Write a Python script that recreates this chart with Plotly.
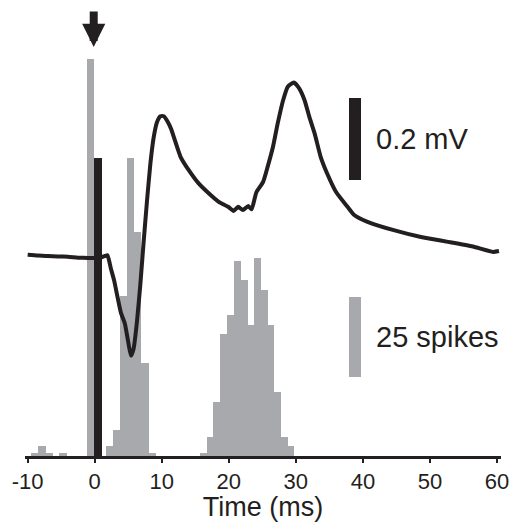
import plotly.graph_objects as go

# Averaged field potential (mV) sampled along the time axis (ms)
time_ms = [-10.0, -8.5, -7.0, -5.5, -4.0, -2.5, -1.0, 0.0, 1.0, 1.5, 1.9, 2.4, 2.9, 3.4,
           3.9, 4.5, 5.0, 5.4, 5.8, 6.3, 6.8, 7.3, 7.8, 8.3, 8.8, 9.3, 9.8, 10.3, 10.8,
           11.4, 12.0, 12.8, 14.0, 15.5, 17.0, 18.5, 19.9, 20.7, 21.4, 22.1, 22.9, 23.4,
           24.1, 25.1, 25.8, 26.6, 27.3, 28.1, 28.8, 29.7, 30.5, 31.3, 32.0, 32.8, 33.7,
           34.7, 36.0, 37.7, 38.7, 40.6, 44.6, 48.5, 52.5, 56.4, 59.4, 60.3]
voltage_mv = [0.003, 0.001, 0.0, -0.001, -0.002, -0.004, -0.005, -0.005, -0.003, 0.0,
              0.002, -0.03, -0.06, -0.10, -0.138, -0.165, -0.21, -0.243, -0.226, -0.16,
              -0.07, 0.035, 0.135, 0.225, 0.29, 0.327, 0.341, 0.341, 0.33, 0.31, 0.28,
              0.242, 0.21, 0.177, 0.153, 0.132, 0.12, 0.11, 0.12, 0.112, 0.122, 0.114,
              0.155, 0.18, 0.218, 0.267, 0.324, 0.38, 0.413, 0.423, 0.409, 0.38, 0.34,
              0.299, 0.242, 0.2, 0.156, 0.12, 0.1, 0.084, 0.063, 0.047, 0.035, 0.023,
              0.01, 0.012]

# Stimulus artifact window (ms) and its peak (mV)
artifact_center_ms = 0.45
artifact_peak_mv = 0.24

# Post-stimulus spike histogram: bin centres (ms) and spike counts
spike_bin_ms = [-8.9, -7.85, -6.8, -4.75, -0.65,
                2.15, 3.22, 4.29, 5.36, 6.43, 7.5, 8.57,
                16.25, 17.25, 18.25, 19.25, 20.25, 21.25, 22.25, 23.25, 24.25, 25.25,
                26.25, 27.25, 28.25, 29.25]
spike_counts = [1, 3, 1, 1, 124,
                3, 8, 50, 93, 70, 29, 1,
                1, 6, 17, 38, 44, 61, 55, 41, 62, 52, 41, 20, 6, 3]

tick_vals = [-10, 0, 10, 20, 30, 40, 50, 60]
tick_text = ["-10", "0", "10", "20", "30", "40", "50", "60"]

# Scale bars
mv_scale = 0.2
spike_scale = 25

INK = "#231f20"
GREY = "#a7a9ac"
FONT = "Liberation Sans, Arial, sans-serif"

W, H = 514, 522
M_L, M_R, M_T, M_B = 25, 9, 5, 66
plot_h = H - M_T - M_B
px_per_spike = 3.2
px_per_mv = 410.0
baseline_px_from_top = 251  # resting level below the plot top
mv_top = baseline_px_from_top / px_per_mv
mv_bottom = mv_top - plot_h / px_per_mv

fig = go.Figure()

fig.add_trace(go.Bar(
    x=spike_bin_ms, y=spike_counts, width=1.08,
    marker=dict(color=GREY, line=dict(width=0)),
    yaxis="y", showlegend=False, hoverinfo="skip",
))

# spike scale bar
scale_x = 38.8
fig.add_trace(go.Bar(
    x=[scale_x], y=[spike_scale], base=[24.7], width=1.8,
    marker=dict(color=GREY, line=dict(width=0)),
    yaxis="y", showlegend=False, hoverinfo="skip",
))

fig.add_trace(go.Scatter(
    x=time_ms, y=voltage_mv, mode="lines",
    line=dict(color=INK, width=4, shape="spline", smoothing=0.5),
    yaxis="y2", showlegend=False, hoverinfo="skip",
))

# stimulus artifact
fig.add_trace(go.Bar(
    x=[artifact_center_ms], y=[artifact_peak_mv - (mv_bottom - 0.05)],
    base=[mv_bottom - 0.05], width=1.2,
    marker=dict(color=INK, line=dict(width=0)),
    yaxis="y2", showlegend=False, hoverinfo="skip",
))

# voltage scale bar
fig.add_trace(go.Bar(
    x=[scale_x], y=[mv_scale], base=[0.185], width=1.8,
    marker=dict(color=INK, line=dict(width=0)),
    yaxis="y2", showlegend=False, hoverinfo="skip",
))

fig.update_layout(
    width=W, height=H,
    margin=dict(l=M_L, r=M_R, t=M_T, b=M_B),
    paper_bgcolor="white", plot_bgcolor="white",
    barmode="overlay", bargap=0,
    font=dict(family=FONT, color=INK),
    xaxis=dict(
        range=[-10.4, 60.6], tickmode="array", tickvals=tick_vals, ticktext=tick_text,
        ticks="outside", ticklen=4, tickwidth=2, tickcolor=INK,
        showline=True, linewidth=3, linecolor=INK,
        showgrid=False, zeroline=False,
        tickfont=dict(size=22, family=FONT, color=INK),
        title=dict(text="Time (ms)", font=dict(size=27, family=FONT, color=INK), standoff=1),
    ),
    yaxis=dict(range=[0, plot_h / px_per_spike], visible=False, fixedrange=True),
    yaxis2=dict(range=[mv_bottom, mv_top], overlaying="y", visible=False),
    annotations=[
        dict(x=0, xref="x", y=(plot_h - 42) / plot_h, yref="paper",
             ax=0, ay=-37, text="", showarrow=True,
             arrowhead=2, arrowwidth=8, arrowsize=0.58, arrowcolor=INK, xshift=-1),
        dict(x=41.6, xref="x", y=mv_scale / 2 + 0.185, yref="y2",
             text="0.2 mV", showarrow=False, xanchor="left", yanchor="middle",
             font=dict(size=29, family=FONT, color=INK)),
        dict(x=41.6, xref="x", y=24.7 + spike_scale / 2, yref="y",
             text="25 spikes", showarrow=False, xanchor="left", yanchor="middle",
             font=dict(size=29, family=FONT, color=INK)),
    ],
)

fig.write_html("out.html")
